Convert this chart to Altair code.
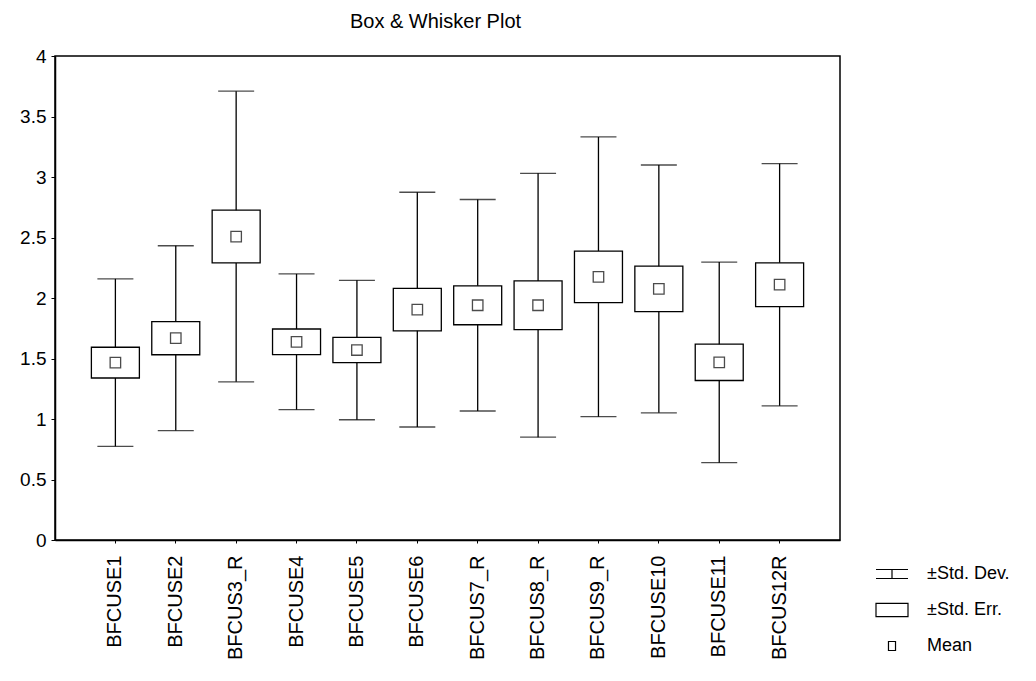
import altair as alt
import pandas as pd

# Variables on the x axis
variables = ["BFCUSE1", "BFCUSE2", "BFCUS3_R", "BFCUSE4", "BFCUSE5", "BFCUSE6",
             "BFCUS7_R", "BFCUS8_R", "BFCUS9_R", "BFCUSE10", "BFCUSE11", "BFCUS12R"]
# Descriptive statistics per variable
means = [1.466, 1.668, 2.508, 1.638, 1.570, 1.904, 1.940, 1.940, 2.175, 2.075, 1.468, 2.110]
std_dev = [0.692, 0.764, 1.201, 0.561, 0.576, 0.970, 0.874, 1.090, 1.156, 1.024, 0.829, 1.001]
std_err = [0.127, 0.137, 0.218, 0.106, 0.104, 0.175, 0.161, 0.201, 0.213, 0.188, 0.150, 0.181]

# Legend entries and their icons (custom SVG symbol paths)
legend_items = ["\u00b1Std. Dev.", "\u00b1Std. Err.", "Mean"]
legend_paths = [
    "M-1,-0.28H1M0,-0.28V0.28M-1,0.28H1",
    "M-1,-0.41H1V0.41H-1Z",
    "M-0.22,-0.28H0.22V0.28H-0.22Z",
]

df = pd.DataFrame({"var": variables, "mean": means, "sd": std_dev, "se": std_err})
df["sd_lo"] = df["mean"] - df["sd"]
df["sd_hi"] = df["mean"] + df["sd"]
df["se_lo"] = df["mean"] - df["se"]
df["se_hi"] = df["mean"] + df["se"]

legend_df = pd.DataFrame({"item": legend_items})

FONT = "Liberation Sans"

x = alt.X(
    "var:N",
    sort=variables,
    scale=alt.Scale(paddingInner=0, paddingOuter=0.5),
    axis=alt.Axis(
        title=None, labelAngle=-90, labelAlign="right", labelBaseline="middle",
        labelFontSize=20, labelPadding=12, tickSize=3, tickColor="black",
        domainColor="black", domainWidth=1.5, labelColor="black",
    ),
)
y_scale = alt.Scale(domain=[0, 4], nice=False)
y_axis = alt.Axis(
    title=None, values=[0, 0.5, 1, 1.5, 2, 2.5, 3, 3.5, 4], format="~g",
    labelFontSize=19, tickSize=4, labelPadding=5, tickColor="black",
    domainColor="black", domainWidth=1.5, grid=False, labelColor="black",
)

base = alt.Chart(df)

whisker = base.mark_rule(color="black", strokeWidth=1.3).encode(
    x=x,
    y=alt.Y("sd_lo:Q", scale=y_scale, axis=y_axis),
    y2="sd_hi:Q",
)
cap_lo = base.mark_tick(color="black", size=36, thickness=1.3).encode(
    x=x, y=alt.Y("sd_lo:Q", scale=y_scale)
)
cap_hi = base.mark_tick(color="black", size=36, thickness=1.3).encode(
    x=x, y=alt.Y("sd_hi:Q", scale=y_scale)
)
box = base.mark_bar(size=48, fill="white", stroke="black", strokeWidth=1.3).encode(
    x=x,
    y=alt.Y("se_lo:Q", scale=y_scale),
    y2="se_hi:Q",
)
mean_pt = base.mark_point(shape="square", filled=False, color="black",
                          size=110, strokeWidth=1.3).encode(
    x=x, y=alt.Y("mean:Q", scale=y_scale)
)

legend_layer = alt.Chart(legend_df).mark_point(
    filled=False, color="black", strokeWidth=1.2
).encode(
    shape=alt.Shape(
        "item:N",
        sort=legend_items,
        scale=alt.Scale(domain=legend_items, range=legend_paths),
        legend=alt.Legend(
            title=None, orient="none", legendX=820, legendY=501,
            symbolSize=1024, symbolStrokeColor="black", symbolStrokeWidth=1.2,
            labelFontSize=18, labelFont=FONT, labelColor="black",
            labelOffset=18, rowPadding=10, padding=0,
        ),
    ),
    opacity=alt.value(0),
)

chart = alt.layer(whisker, cap_lo, cap_hi, box, mean_pt, legend_layer).properties(
    width=785,
    height=484,
    title=alt.TitleParams("Box & Whisker Plot", fontSize=20, fontWeight="normal",
                          font=FONT, color="black", offset=15, anchor="middle",
                          dx=-12),
    autosize=alt.AutoSizeParams(type="none"),
    padding={"left": 55, "top": 56, "right": 196, "bottom": 141},
).configure(
    font=FONT,
    background="white",
).configure_view(
    stroke="black", strokeWidth=1.5,
).configure_axis(
    labelFont=FONT,
)

chart.save("out.html", embed_options={"renderer": "svg", "actions": False})
